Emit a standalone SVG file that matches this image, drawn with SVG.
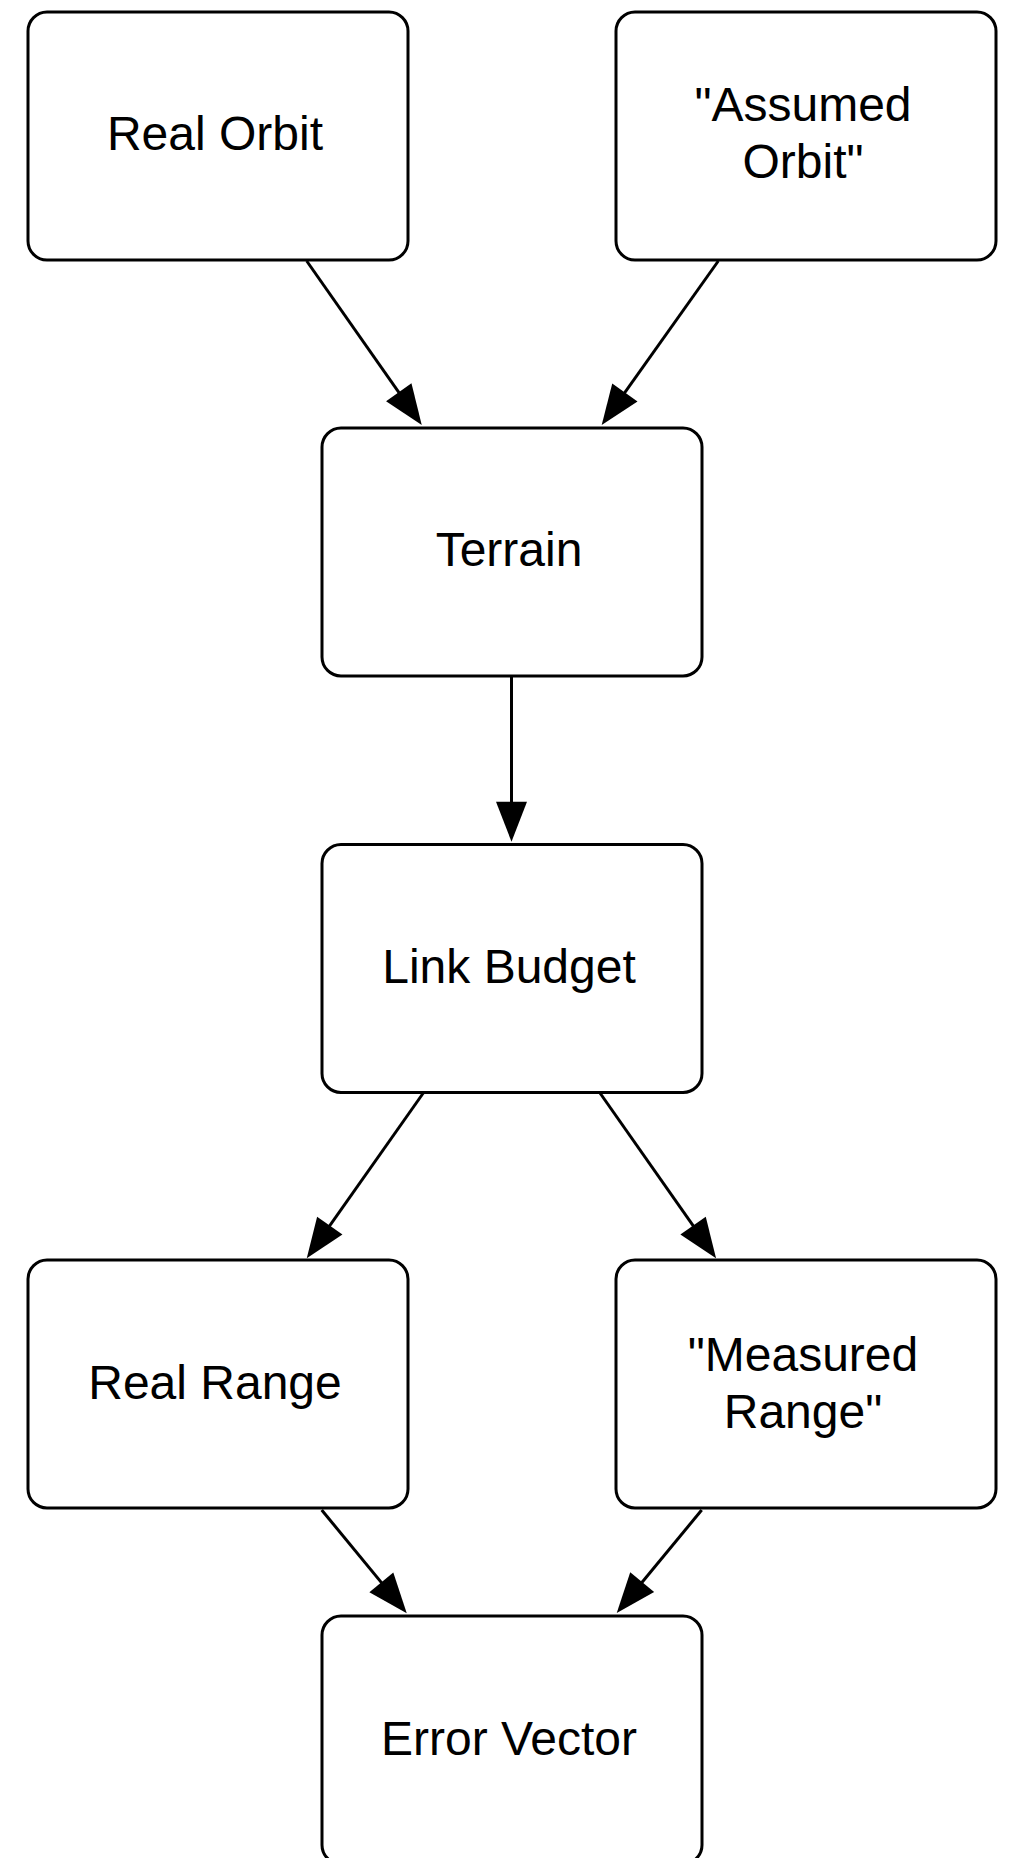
<svg xmlns="http://www.w3.org/2000/svg" width="1011" height="1858" viewBox="0 0 1011 1858">
<style>
.box{fill:#ffffff;stroke:#000000;stroke-width:3}
.lbl{font-family:"Liberation Sans",Arial,Helvetica,sans-serif;font-size:48px;fill:#000000;text-anchor:middle}
.edge{fill:none;stroke:#000000;stroke-width:3;marker-end:url(#arr)}
</style>
<defs>
<marker id="arr" markerUnits="userSpaceOnUse" markerWidth="40" markerHeight="31" refX="30" refY="15.5" orient="auto" overflow="visible">
<path d="M0,0 L40,15.5 L0,31 Z" fill="#000000"/>
</marker>
</defs>
<rect x="0" y="0" width="1011" height="1858" fill="#ffffff"/>
<g id="connectors">
<path class="edge" d="M306.7,261 L416,416.8"/>
<path class="edge" d="M718.3,261 L607.5,416.9"/>
<path class="edge" d="M511.5,677 L511.5,831.7"/>
<path class="edge" d="M423.3,1093 L312.5,1250.1"/>
<path class="edge" d="M600,1093 L710.3,1250.1"/>
<path class="edge" d="M321.7,1510 L400.4,1605.6"/>
<path class="edge" d="M701.7,1510 L623.1,1605.3"/>
</g>
<g id="real-orbit">
<rect class="box" x="28" y="12" width="380" height="248" rx="19" ry="19"/>
<text class="lbl" x="215" y="150">Real Orbit</text>
</g>
<g id="assumed-orbit">
<rect class="box" x="616" y="12" width="380" height="248" rx="19" ry="19"/>
<text class="lbl" x="803" y="121">"Assumed</text>
<text class="lbl" x="803" y="178">Orbit"</text>
</g>
<g id="terrain">
<rect class="box" x="322" y="428" width="380" height="248" rx="19" ry="19"/>
<text class="lbl" x="509" y="566">Terrain</text>
</g>
<g id="link-budget">
<rect class="box" x="322" y="844.5" width="380" height="248" rx="19" ry="19"/>
<text class="lbl" x="509" y="983">Link Budget</text>
</g>
<g id="real-range">
<rect class="box" x="28" y="1260" width="380" height="248" rx="19" ry="19"/>
<text class="lbl" x="215" y="1399">Real Range</text>
</g>
<g id="measured-range">
<rect class="box" x="616" y="1260" width="380" height="248" rx="19" ry="19"/>
<text class="lbl" x="803" y="1371">"Measured</text>
<text class="lbl" x="803" y="1428">Range"</text>
</g>
<g id="error-vector">
<rect class="box" x="322" y="1616" width="380" height="248" rx="19" ry="19"/>
<text class="lbl" x="509" y="1755">Error Vector</text>
</g>
</svg>
